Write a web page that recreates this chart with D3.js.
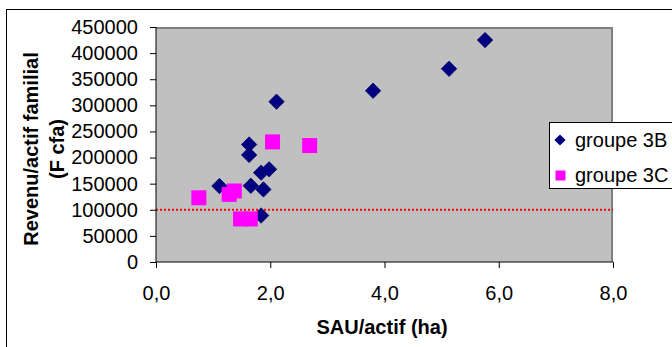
<!DOCTYPE html>
<html><head><meta charset="utf-8">
<script src="https://cdn.jsdelivr.net/npm/d3@7"></script>
<style>body{margin:0;background:#fff}svg{display:block;font-family:"Liberation Sans",Arial,sans-serif}</style>
</head><body>
<svg id="c" width="672" height="347"></svg>
<script>
const xTicks = [0, 2, 4, 6, 8];
const yTicks = [0, 50000, 100000, 150000, 200000, 250000, 300000, 350000, 400000, 450000];
const group3B_x = [5.76, 5.13, 3.80, 2.11, 1.63, 1.63, 1.84, 1.98, 1.11, 1.66, 1.88, 1.84];
const group3B_y = [425000, 370000, 328000, 307000, 225000, 205000, 171000, 177500, 145500, 146000, 139000, 89000];
const group3C_x = [2.04, 2.69, 1.37, 1.28, 0.75, 1.48, 1.65];
const group3C_y = [230000, 223000, 136000, 129500, 123000, 82500, 82500];
const seriesNames = ["groupe 3B", "groupe 3C"];
const thresholdY = 100000;

const svg = d3.select("#c");
const L = 156, R = 613, T = 27, B = 262;
const x = d3.scaleLinear().domain([0, 8]).range([L, R]);
const y = d3.scaleLinear().domain([0, 450000]).range([B, T]);

// outer chart border
svg.append("rect").attr("x", 6.5).attr("y", 9.5).attr("width", 700).attr("height", 400)
  .attr("fill", "#fff").attr("stroke", "#000").attr("stroke-width", 1);

// plot area
svg.append("rect").attr("x", L).attr("y", T).attr("width", R - L).attr("height", B - T)
  .attr("fill", "#c0c0c0");
svg.append("path").attr("d", `M${L},${T+1}H${R-1}V${B}`).attr("fill", "none")
  .attr("stroke", "#808080").attr("stroke-width", 2);

// threshold line
svg.append("line").attr("x1", L).attr("x2", R).attr("y1", y(thresholdY)).attr("y2", y(thresholdY))
  .attr("stroke", "#ff0000").attr("stroke-width", 2).attr("stroke-dasharray", "2,2");

// axes
const xAxis = d3.axisBottom(x).tickValues(xTicks).tickSize(6).tickPadding(18)
  .tickFormat(d => d3.format(".1f")(d).replace(".", ","));
const gx = svg.append("g").attr("transform", `translate(0,${B})`).call(xAxis);
const yAxis = d3.axisLeft(y).tickValues(yTicks).tickSize(6).tickPadding(12).tickFormat(d => d);
const gy = svg.append("g").attr("transform", `translate(${L},0)`).call(yAxis);
[gx, gy].forEach(g => {
  g.select(".domain").attr("stroke", "#000").attr("stroke-width", 1);
  g.selectAll(".tick line").attr("stroke", "#000");
  g.selectAll("text").attr("font-size", 20).attr("fill", "#000")
    .attr("font-family", '"Liberation Sans", Arial, sans-serif');
});
gx.select(".domain").attr("d", `M${L},0H${R}`);
gy.select(".domain").attr("d", `M0,${B}V${T}`);

// points
const dia = d3.symbol().type(d3.symbolDiamond2).size(150);
const g3b = group3B_x.map((v, i) => ({x: v, y: group3B_y[i]}));
const g3c = group3C_x.map((v, i) => ({x: v, y: group3C_y[i]}));
svg.append("g").selectAll("path").data(g3b).join("path")
  .attr("d", dia).attr("transform", d => `translate(${x(d.x)},${y(d.y)})`)
  .attr("fill", "#000080").attr("stroke", "#000060").attr("stroke-width", 0.8);
svg.append("g").selectAll("rect").data(g3c).join("rect")
  .attr("x", d => x(d.x) - 7.5).attr("y", d => y(d.y) - 7.5)
  .attr("width", 15).attr("height", 15).attr("fill", "#ff00ff");

// axis titles
svg.append("text").attr("x", 382).attr("y", 334).attr("text-anchor", "middle")
  .attr("font-size", 20).attr("font-weight", "bold").text("SAU/actif (ha)");
const yt = svg.append("text").attr("transform", "translate(0,149) rotate(-90)")
  .attr("text-anchor", "middle").attr("font-size", 20).attr("font-weight", "bold");
yt.append("tspan").attr("x", 0).attr("y", 38).text("Revenu/actif familial");
yt.append("tspan").attr("x", 0).attr("y", 64).text("(F cfa)");

// legend
const lg = svg.append("g");
lg.append("rect").attr("x", 549.5).attr("y", 122.5).attr("width", 200).attr("height", 66)
  .attr("fill", "#fff").attr("stroke", "#000").attr("stroke-width", 1);
lg.append("path").attr("d", d3.symbol().type(d3.symbolDiamond2).size(80))
  .attr("transform", "translate(560,140)").attr("fill", "#000080");
lg.append("rect").attr("x", 555.5).attr("y", 170.5).attr("width", 10).attr("height", 10).attr("fill", "#ff00ff");
lg.append("text").attr("x", 575).attr("y", 147).attr("font-size", 20).text(seriesNames[0]);
lg.append("text").attr("x", 575).attr("y", 182).attr("font-size", 20).text(seriesNames[1]);
</script>
</body></html>
